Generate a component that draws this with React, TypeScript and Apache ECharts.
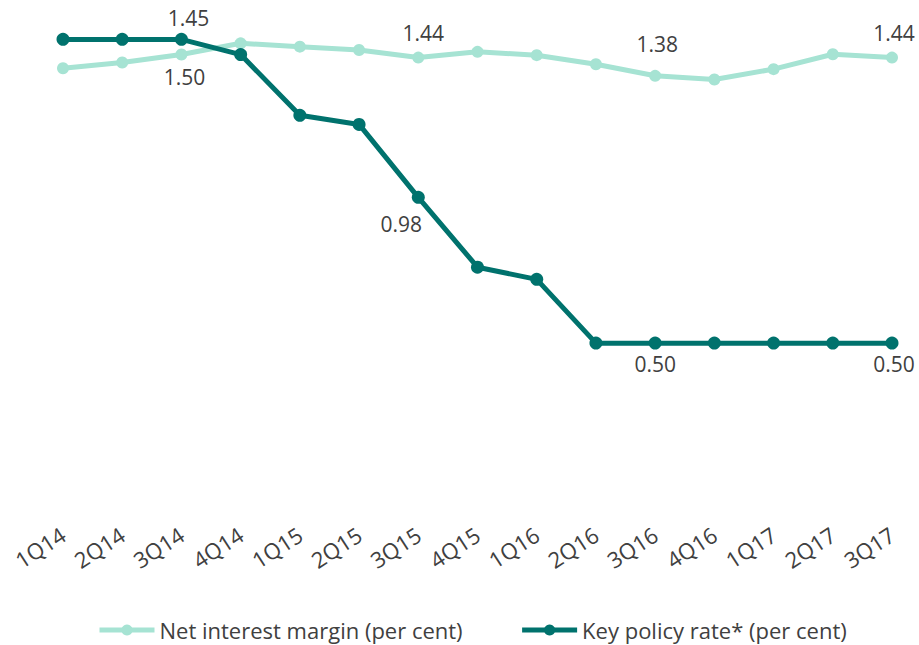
import React, { useEffect, useRef } from "react";
import * as echarts from "echarts";

const categories = ["1Q14", "2Q14", "3Q14", "4Q14", "1Q15", "2Q15", "3Q15", "4Q15", "1Q16", "2Q16", "3Q16", "4Q16", "1Q17", "2Q17", "3Q17"];
const netInterestMargin = [1.405, 1.424, 1.45, 1.487, 1.476, 1.465, 1.44, 1.459, 1.448, 1.418, 1.38, 1.368, 1.402, 1.451, 1.44];
const keyPolicyRate = [1.5, 1.5, 1.5, 1.45, 1.25, 1.22, 0.98, 0.75, 0.71, 0.5, 0.5, 0.5, 0.5, 0.5, 0.5];
const nimLabels: Record<number, string> = { 2: "1.45", 6: "1.44", 10: "1.38", 14: "1.44" };
const keyLabels: Record<number, string> = { 2: "1.50", 6: "0.98", 10: "0.50", 14: "0.50" };
const nimOffsets: Record<number, number[]> = { 2: [7, -37], 6: [5, -25], 10: [2, -32], 14: [2, -25] };
const keyOffsets: Record<number, number[]> = { 2: [3, 38], 6: [-17, 27], 10: [0, 21], 14: [2, 21] };

const FONT = "'Open Sans', 'Noto Sans', sans-serif";
const TEXT = "#404040";
const NIM_COLOR = "#a6e3d3";
const KEY_COLOR = "#00726d";

function buildData(values: number[], labels: Record<number, string>, offsets: Record<number, number[]>) {
  return values.map((v, i) => {
    if (labels[i] === undefined) return v;
    return {
      value: v,
      label: {
        show: true,
        position: "inside",
        offset: offsets[i],
        formatter: labels[i],
        color: TEXT,
        fontSize: 21,
        fontFamily: FONT,
      },
    };
  });
}

export default function App() {
  const ref = useRef<HTMLDivElement>(null);
  useEffect(() => {
    if (!ref.current) return;
    const chart = echarts.init(ref.current, null, { renderer: "svg" });
    chart.setOption({
      animation: false,
      backgroundColor: "#ffffff",
      textStyle: { fontFamily: FONT },
      grid: { left: 63, right: 27, top: 9, bottom: 150, containLabel: false },
      legend: {
        left: 97,
        top: 617,
        padding: 0,
        itemWidth: 55,
        itemHeight: 14,
        itemGap: 57,
        lineStyle: { width: 5 },
        textStyle: { color: TEXT, fontSize: 22, fontFamily: FONT, lineHeight: 26 },
        data: ["Net interest margin (per cent)", "Key policy rate* (per cent)"],
      },
      xAxis: {
        type: "category",
        data: categories,
        boundaryGap: false,
        axisLine: { show: false },
        axisTick: { show: false },
        axisLabel: { rotate: 33, margin: 37, color: TEXT, fontSize: 22, fontFamily: FONT },
      },
      yAxis: {
        type: "value",
        min: 0,
        max: 1.6,
        show: false,
        splitLine: { show: false },
      },
      series: [
        {
          name: "Net interest margin (per cent)",
          type: "line",
          data: buildData(netInterestMargin, nimLabels, nimOffsets),
          color: NIM_COLOR,
          symbol: "circle",
          symbolSize: 12,
          lineStyle: { width: 5, color: NIM_COLOR },
          itemStyle: { color: NIM_COLOR },
          z: 2,
        },
        {
          name: "Key policy rate* (per cent)",
          type: "line",
          data: buildData(keyPolicyRate, keyLabels, keyOffsets),
          color: KEY_COLOR,
          symbol: "circle",
          symbolSize: 13,
          lineStyle: { width: 5, color: KEY_COLOR },
          itemStyle: { color: KEY_COLOR },
          z: 3,
        },
      ],
    });
    return () => chart.dispose();
  }, []);
  return (
    <div
      ref={ref}
      style={{ position: "fixed", left: 0, top: 0, width: 919, height: 645, background: "#fff" }}
    />
  );
}
